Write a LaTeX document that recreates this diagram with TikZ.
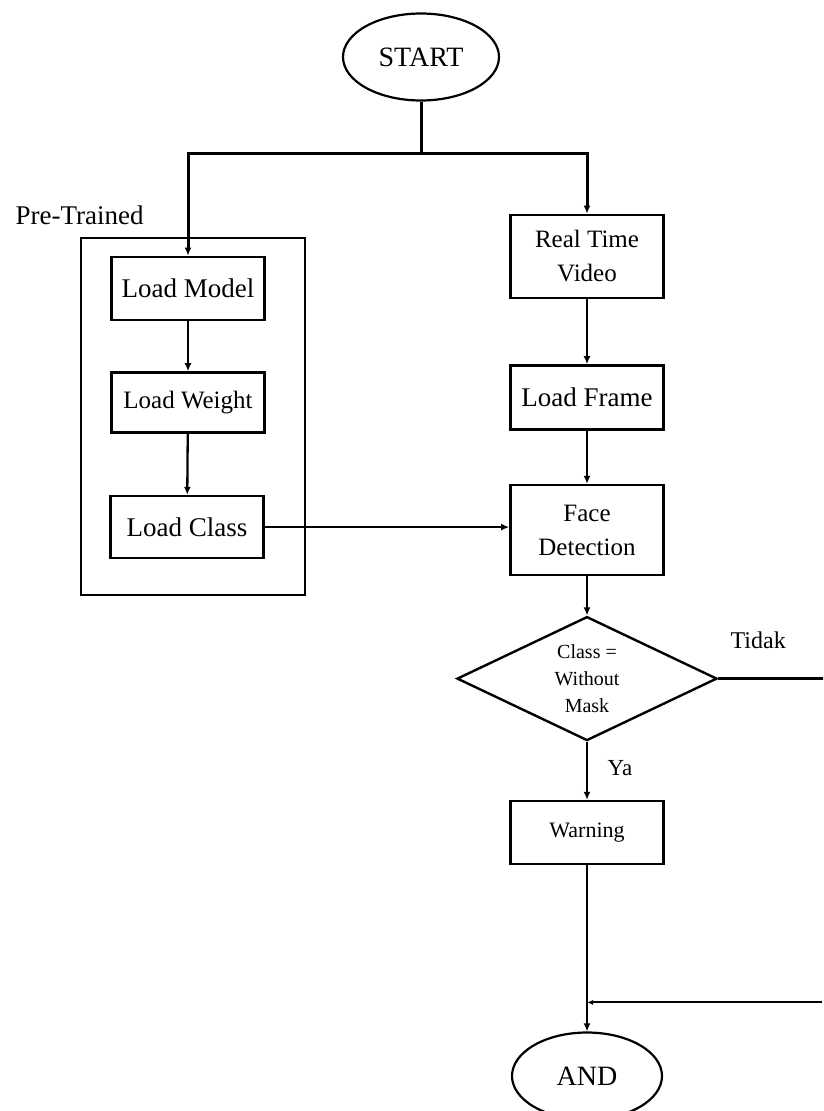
\documentclass[tikz,border=0pt]{standalone}
\usepackage{fontspec}
\setmainfont{Liberation Serif}
\usetikzlibrary{positioning,shapes.geometric,arrows.meta}

\begin{document}
\begin{tikzpicture}[x=1pt,y=1pt]
    \tikzstyle{proc} = [rectangle, draw, line width=2.6pt, minimum width=153pt, minimum height=63pt, inner sep=0pt, align=center, font=\fontsize{27}{34}\selectfont]
    \tikzstyle{term} = [ellipse, draw, line width=2.2pt, minimum width=156pt, minimum height=87pt, inner sep=0pt, font=\fontsize{28}{34}\selectfont]
    \tikzstyle{decide} = [diamond, aspect=2.1, draw, line width=2.4pt, minimum width=260pt, minimum height=124pt, inner sep=0pt, align=center, font=\fontsize{20}{27}\selectfont]
    \tikzstyle{grp} = [rectangle, draw, line width=2.6pt]
    \tikzstyle{lbl} = [inner sep=2pt, font=\fontsize{24}{30}\selectfont]
    \tikzstyle{flow} = [-{Latex[length=8pt,width=7pt]}, line width=2.3pt]
    \clip (0,0) rectangle (823,-1111);
        \node[term] (start) at (421,-57) {START};
        \coordinate[below=52pt of start] (fork);
        % right column
        \node[proc, minimum height=83pt, below=60pt of fork, xshift=166pt, font=\fontsize{25}{34}\selectfont] (video) {Real Time\\Video};
        \node[proc, minimum height=64pt, below=65pt of video] (frame) {Load Frame};
        \node[proc, minimum height=90pt, below=53pt of frame, font=\fontsize{25}{34}\selectfont] (face) {Face\\Detection};
        \node[decide, below=39pt of face] (check) {Class =\\Without\\Mask};
        \node[proc, below=58pt of check, font=\fontsize{22}{28}\selectfont] (warn) {Warning};
        \node[term, minimum width=150pt, below=166pt of warn] (finish) {AND};
        % pre-trained column
        \node[proc, below=102pt of fork, xshift=-233pt] (model) {Load Model};
        \node[proc, minimum height=60pt, below=50pt of model, font=\fontsize{25}{32}\selectfont] (weight) {Load Weight};
        \node[proc, minimum height=62pt, below=61pt of weight, xshift=-1pt] (cls) {Load Class};
        \node[grp, minimum width=224pt, minimum height=357pt] (pretrain) at (193,-416.5) {};
        \node[lbl, above=10pt of pretrain.north west, font=\fontsize{27}{32}\selectfont] (pretxt) {Pre-Trained};
        % loose ends
        \coordinate[right=108pt of check.east] (outright);
        \coordinate[below=137pt of warn] (join);
        \coordinate[right=235pt of join] (inright);
        % connectors
        \draw[line width=3pt] (start) -- (fork);
        \draw[flow, line width=3pt] (fork) -| (model);
        \draw[flow, line width=3pt] (fork) -| (video);
        \draw[flow] (model) -- (weight);
        \draw[flow] (weight) -- (cls);
        \draw[flow] (video) -- (frame);
        \draw[flow] (frame) -- (face);
        \draw[flow] (cls) -- (cls -| face.west);
        \draw[flow] (face) -- (check);
        \draw[flow] (check) -- (warn);
        \draw[line width=2.4pt] (check.east) -- (outright);
        \draw[flow] (warn) -- (finish);
        \draw[-{Latex[length=6pt,width=5pt]}, line width=2pt] (inright) -- (join);
        %%% labels
        \node[lbl, xshift=40pt, yshift=38pt] (tidak) at (check.east) {Tidak};
        \node[lbl, xshift=33pt, yshift=-26pt, font=\fontsize{23}{28}\selectfont] (ya) at (check.south) {Ya};
\end{tikzpicture}
\end{document}
